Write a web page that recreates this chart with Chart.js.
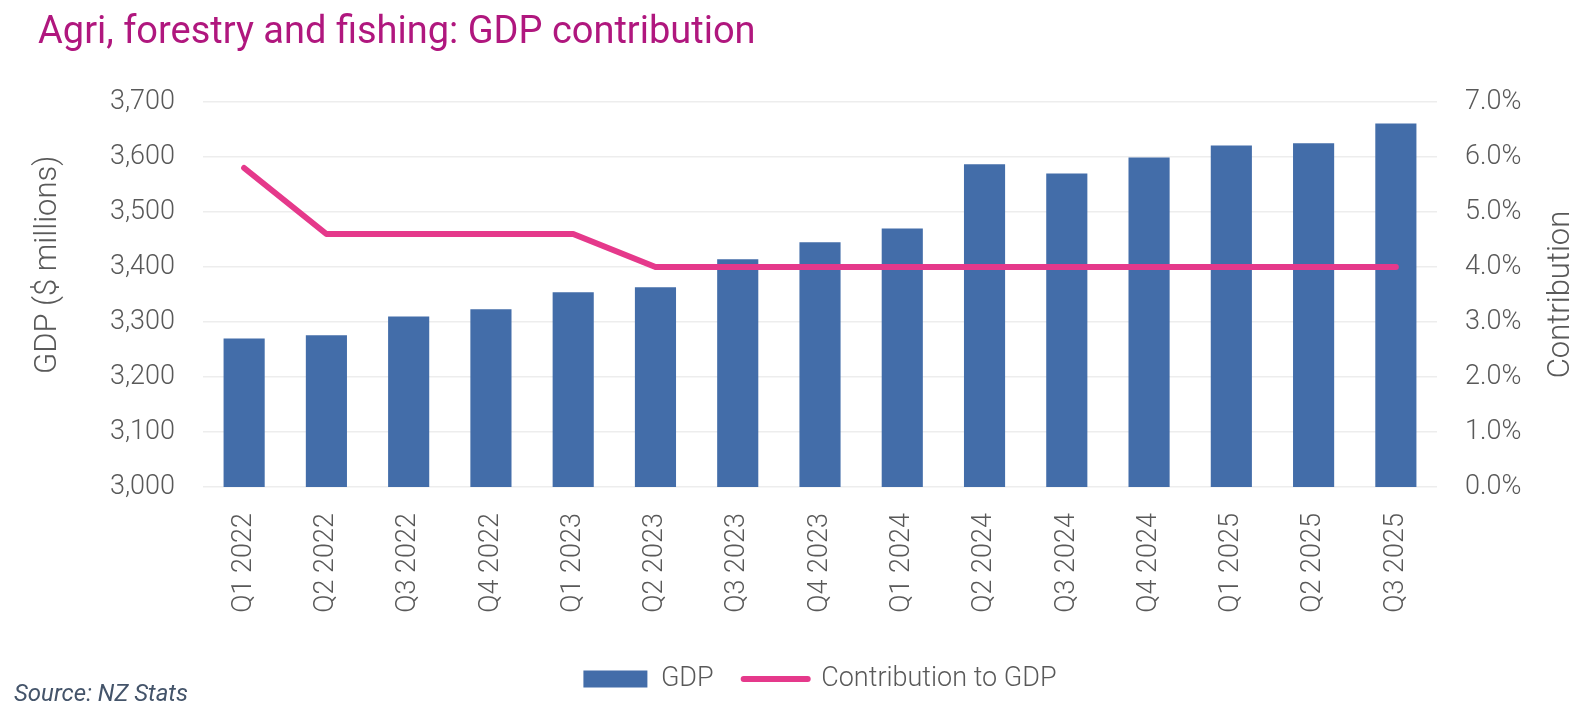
<!DOCTYPE html>
<html>
<head>
<meta charset="utf-8">
<script src="https://cdn.jsdelivr.net/npm/chart.js@4.4.1/dist/chart.umd.min.js"></script>
<style>
  html, body { margin: 0; padding: 0; background: #ffffff; }
  #wrap { position: relative; width: 1588px; height: 709px; }
</style>
</head>
<body>
<div id="wrap"><canvas id="c"></canvas></div>
<script>
// ---- Data ----
const categories = ['Q1 2022', 'Q2 2022', 'Q3 2022', 'Q4 2022', 'Q1 2023', 'Q2 2023', 'Q3 2023', 'Q4 2023',
                    'Q1 2024', 'Q2 2024', 'Q3 2024', 'Q4 2024', 'Q1 2025', 'Q2 2025', 'Q3 2025'];
const gdpValues = [3270, 3276, 3310, 3323, 3354, 3363, 3414, 3445, 3470, 3587, 3570, 3599, 3621, 3625, 3661];
const contributionValues = [5.8, 4.6, 4.6, 4.6, 4.6, 4.0, 4.0, 4.0, 4.0, 4.0, 4.0, 4.0, 4.0, 4.0, 4.0];
const seriesNames = ['GDP', 'Contribution to GDP'];
const leftAxisRange = [3000, 3700, 100];
const rightAxisRange = [0, 7, 1];
const chartTitle = 'Agri, forestry and fishing: GDP contribution';
const leftAxisTitle = 'GDP ($ millions)';
const rightAxisTitle = 'Contribution';
const sourceNote = 'Source: NZ Stats';

// ---- Styles ----
const FONT = "Roboto, 'Liberation Sans', sans-serif";
const TEXT = '#595959';
const BAR = '#436DA9';
const LINE = '#E5398B';
const TITLE = '#B0177E';
const LIGHT = '300';

const textPlugin = {
  id: 'texts',
  afterLayout(chart) {
    const lg = chart.legend, ca = chart.chartArea;
    if (lg && ca) {
      const d = (ca.left + ca.right) / 2 - (lg.left + lg.right) / 2;
      lg.left += d; lg.right += d;
    }
  },
  afterDraw(chart) {
    const ctx = chart.ctx, ca = chart.chartArea;
    ctx.save();
    // title
    ctx.fillStyle = TITLE;
    ctx.font = '400 38px ' + FONT;
    ctx.textAlign = 'left';
    ctx.textBaseline = 'alphabetic';
    ctx.fillText(chartTitle, 38, 43);
    // left axis title
    ctx.fillStyle = TEXT;
    ctx.font = LIGHT + ' 31px ' + FONT;
    ctx.textAlign = 'center';
    ctx.textBaseline = 'middle';
    ctx.save();
    ctx.translate(48, ca.top + (ca.bottom - ca.top) * 0.423);
    ctx.rotate(-Math.PI / 2);
    ctx.fillText(leftAxisTitle, 0, 0);
    ctx.restore();
    // right axis title
    ctx.save();
    ctx.translate(1561, (ca.top + ca.bottom) / 2);
    ctx.rotate(-Math.PI / 2);
    ctx.fillText(rightAxisTitle, 0, 0);
    ctx.restore();
    // source
    ctx.fillStyle = '#44546A';
    ctx.font = 'italic 400 24px ' + FONT;
    ctx.textAlign = 'left';
    ctx.textBaseline = 'alphabetic';
    ctx.fillText(sourceNote, 14, 701);
    ctx.restore();
  }
};

new Chart(document.getElementById('c'), {
  data: {
    labels: categories,
    datasets: [
      {
        type: 'bar',
        label: seriesNames[0],
        data: gdpValues,
        backgroundColor: BAR,
        borderWidth: 0,
        categoryPercentage: 1.0,
        barPercentage: 0.5,
        yAxisID: 'y',
        order: 1,
        pointStyle: 'rect'
      },
      {
        type: 'line',
        label: seriesNames[1],
        data: contributionValues,
        borderColor: LINE,
        backgroundColor: LINE,
        borderWidth: 6,
        borderCapStyle: 'round',
        borderJoinStyle: 'round',
        pointRadius: 0,
        pointHoverRadius: 0,
        tension: 0,
        yAxisID: 'y1',
        order: 0,
        pointStyle: 'line'
      }
    ]
  },
  options: {
    responsive: true,
    maintainAspectRatio: false,
    animation: false,
    layout: { padding: { top: 102, left: 0, right: 0, bottom: 6.5 } },
    plugins: {
      title: { display: false },
      tooltip: { enabled: false },
      legend: {
        display: true,
        position: 'bottom',
        align: 'center',
        labels: {
          usePointStyle: true,
          pointStyleWidth: 64,
          boxHeight: 17,
          padding: 30,
          color: TEXT,
          font: { family: FONT, size: 27, weight: LIGHT },
          sort: (a, b) => a.datasetIndex - b.datasetIndex,
          generateLabels(chart) {
            const items = Chart.defaults.plugins.legend.labels.generateLabels(chart);
            items.forEach(it => {
              if (it.datasetIndex === 0) {
                it.pointStyle = 'rect'; it.fillStyle = BAR; it.strokeStyle = BAR; it.lineWidth = 0;
              } else {
                it.pointStyle = 'line'; it.strokeStyle = LINE; it.fillStyle = LINE; it.lineWidth = 6; it.lineCap = 'round';
              }
            });
            return items;
          }
        }
      }
    },
    scales: {
      x: {
        grid: { display: false },
        border: { display: false },
        ticks: {
          color: TEXT,
          font: { family: FONT, size: 27, weight: LIGHT },
          minRotation: 90,
          maxRotation: 90,
          padding: 18,
          autoSkip: false
        },
        afterFit(s) { s.height = 148.5; }
      },
      y: {
        position: 'left',
        min: leftAxisRange[0],
        max: leftAxisRange[1],
        grid: { color: '#EDEDED', lineWidth: 1.5, drawTicks: false },
        border: { display: false },
        ticks: {
          stepSize: leftAxisRange[2],
          color: TEXT,
          padding: 28,
          font: { family: FONT, size: 27, weight: LIGHT },
          callback: v => v.toLocaleString('en-US')
        },
        afterFit(s) { s.width = 203; }
      },
      y1: {
        position: 'right',
        min: rightAxisRange[0],
        max: rightAxisRange[1],
        grid: { drawOnChartArea: false, drawTicks: false },
        border: { display: false },
        ticks: {
          stepSize: rightAxisRange[2],
          color: TEXT,
          padding: 28,
          font: { family: FONT, size: 27, weight: LIGHT },
          callback: v => v.toFixed(1) + '%'
        },
        afterFit(s) { s.width = 151; }
      }
    }
  },
  plugins: [textPlugin]
});
</script>
</body>
</html>
